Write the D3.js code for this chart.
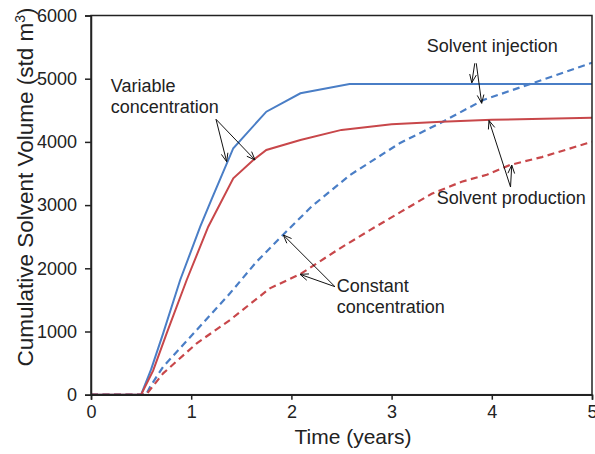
<!DOCTYPE html>
<html><head><meta charset="utf-8">
<script src="https://cdn.jsdelivr.net/npm/d3@7"></script>
<style>
html,body{margin:0;padding:0;background:#fff;}
svg{display:block;font-family:"Liberation Sans",Arial,Helvetica,sans-serif;}
</style></head>
<body><svg id="c" width="595" height="454"></svg>
<script>
// ---- data ----
const xTicks = [0, 1, 2, 3, 4, 5];
const yTicks = [0, 1000, 2000, 3000, 4000, 5000, 6000];

const injVarT = [0, 0.5, 0.6, 0.72, 0.89, 1.09, 1.2, 1.42, 1.75, 2.09, 2.58, 5];
const injVarV = [0, 0, 400, 971, 1815, 2658, 3080, 3900, 4478, 4769, 4916, 4916];

const prodVarT = [0, 0.5, 0.62, 0.755, 0.955, 1.17, 1.42, 1.62, 1.75, 2.09, 2.5, 3.0, 3.5, 4.0, 5];
const prodVarV = [0, 0, 380, 971, 1815, 2658, 3424, 3714, 3872, 4030, 4190, 4280, 4320, 4350, 4383];

const injConT = [0, 0.55, 0.59, 0.72, 1.055, 1.387, 1.65, 1.92, 2.2, 2.585, 3.08, 3.48, 3.915, 4.5, 5];
const injConV = [0, 0, 127, 443, 1024, 1604, 2100, 2536, 2975, 3476, 3978, 4294, 4663, 4980, 5253];

const prodConT = [0, 0.55, 0.72, 1.055, 1.387, 1.785, 2.085, 2.485, 2.8, 3.1, 3.4, 3.7, 3.95, 4.18, 4.5, 4.95, 5];
const prodConV = [0, 0, 338, 813, 1182, 1683, 1905, 2316, 2620, 2900, 3180, 3370, 3480, 3634, 3760, 3978, 4000];

// annotations (data coordinates)
const annoText = [
  {lines: ["Variable", "concentration"], t: 0.197, v: 4790},
  {lines: ["Solvent injection"], t: 3.35, v: 5422},
  {lines: ["Solvent production"], t: 3.45, v: 3017},
  {lines: ["Constant", "concentration"], t: 2.452, v: 1630}
];
const annoArrows = [
  {t0: 1.2475, v0: 4358, t1: 1.354, v1: 3687},
  {t0: 1.2475, v0: 4358, t1: 1.637, v1: 3714},
  {t0: 3.83, v0: 5244, t1: 3.80, v1: 4935},
  {t0: 3.845, v0: 5244, t1: 3.899, v1: 4611},
  {t0: 4.187, v0: 3286, t1: 3.972, v1: 4339},
  {t0: 4.187, v0: 3286, t1: 4.199, v1: 3634},
  {t0: 2.435, v0: 1709, t1: 1.919, v1: 2527},
  {t0: 2.435, v0: 1709, t1: 2.086, v1: 1905}
];

// ---- chart ----
const svg = d3.select("#c");
const x = d3.scaleLinear().domain([0, 5]).range([91, 592]);
const y = d3.scaleLinear().domain([0, 6000]).range([394.7, 15.5]);
const blue = "#4a7ec6", red = "#c8474a", ink = "#222";

svg.append("defs").append("clipPath").attr("id", "clip")
  .append("rect").attr("x", x(0)).attr("y", y(6000)).attr("width", x(5) - x(0)).attr("height", y(0) - y(6000));

const line = d3.line().x(d => x(d[0])).y(d => y(d[1]));
const zip = (a, b) => a.map((t, i) => [t, b[i]]);

const g = svg.append("g").attr("clip-path", "url(#clip)");
g.append("path").attr("d", line(zip(injConT, injConV))).attr("fill", "none")
  .attr("stroke", blue).attr("stroke-width", 2.2).attr("stroke-dasharray", "7,4.5");
g.append("path").attr("d", line(zip(prodConT, prodConV))).attr("fill", "none")
  .attr("stroke", red).attr("stroke-width", 2.2).attr("stroke-dasharray", "7,4.5");
g.append("path").attr("d", line(zip(injVarT, injVarV))).attr("fill", "none")
  .attr("stroke", blue).attr("stroke-width", 2);
g.append("path").attr("d", line(zip(prodVarT, prodVarV))).attr("fill", "none")
  .attr("stroke", red).attr("stroke-width", 2);

// frame
svg.append("rect").attr("x", x(0)).attr("y", y(6000)).attr("width", x(5) - x(0)).attr("height", y(0) - y(6000))
  .attr("fill", "none").attr("stroke", ink).attr("stroke-width", 1.5);

// axes
const xa = svg.append("g").attr("transform", `translate(0,${y(0)})`)
  .call(d3.axisBottom(x).tickValues(xTicks).tickFormat(d3.format("d")).tickSize(5).tickPadding(6));
const ya = svg.append("g").attr("transform", `translate(${x(0)},0)`)
  .call(d3.axisLeft(y).tickValues(yTicks).tickFormat(d3.format("d")).tickSize(6).tickPadding(8));
[xa, ya].forEach(a => {
  a.select(".domain").attr("stroke", ink).attr("stroke-width", 1.5);
  a.selectAll(".tick line").attr("stroke", ink).attr("stroke-width", 1.5);
  a.selectAll(".tick text").attr("fill", ink).style("font-size", "18px")
    .style("font-family", '"Liberation Sans",Arial,sans-serif');
});

svg.append("text").attr("x", 353).attr("y", 444).attr("text-anchor", "middle")
  .attr("fill", ink).style("font-size", "21px").text("Time (years)");
const yt = svg.append("text").attr("transform", "translate(33,187) rotate(-90)")
  .attr("text-anchor", "middle").attr("fill", ink).style("font-size", "22.5px");
yt.append("tspan").text("Cumulative Solvent Volume (std m");
yt.append("tspan").attr("dy", -8).style("font-size", "14px").text("3");
yt.append("tspan").attr("dy", 8).text(")");

// annotations
annoText.forEach(a => {
  const tx = svg.append("text").attr("x", x(a.t)).attr("y", y(a.v)).attr("fill", ink).style("font-size", "18px");
  a.lines.forEach((l, i) => tx.append("tspan").attr("x", x(a.t)).attr("dy", i ? 21 : 0).text(l));
});
annoArrows.forEach(a => {
  const x0 = x(a.t0), y0 = y(a.v0), x1 = x(a.t1), y1 = y(a.v1);
  const ang = Math.atan2(y1 - y0, x1 - x0), L = 9, w = 0.38;
  const p = d3.path();
  p.moveTo(x0, y0); p.lineTo(x1, y1);
  p.moveTo(x1 - L * Math.cos(ang - w), y1 - L * Math.sin(ang - w));
  p.lineTo(x1, y1);
  p.lineTo(x1 - L * Math.cos(ang + w), y1 - L * Math.sin(ang + w));
  svg.append("path").attr("d", p.toString()).attr("fill", "none").attr("stroke", "#111").attr("stroke-width", 1);
});
</script></body></html>
